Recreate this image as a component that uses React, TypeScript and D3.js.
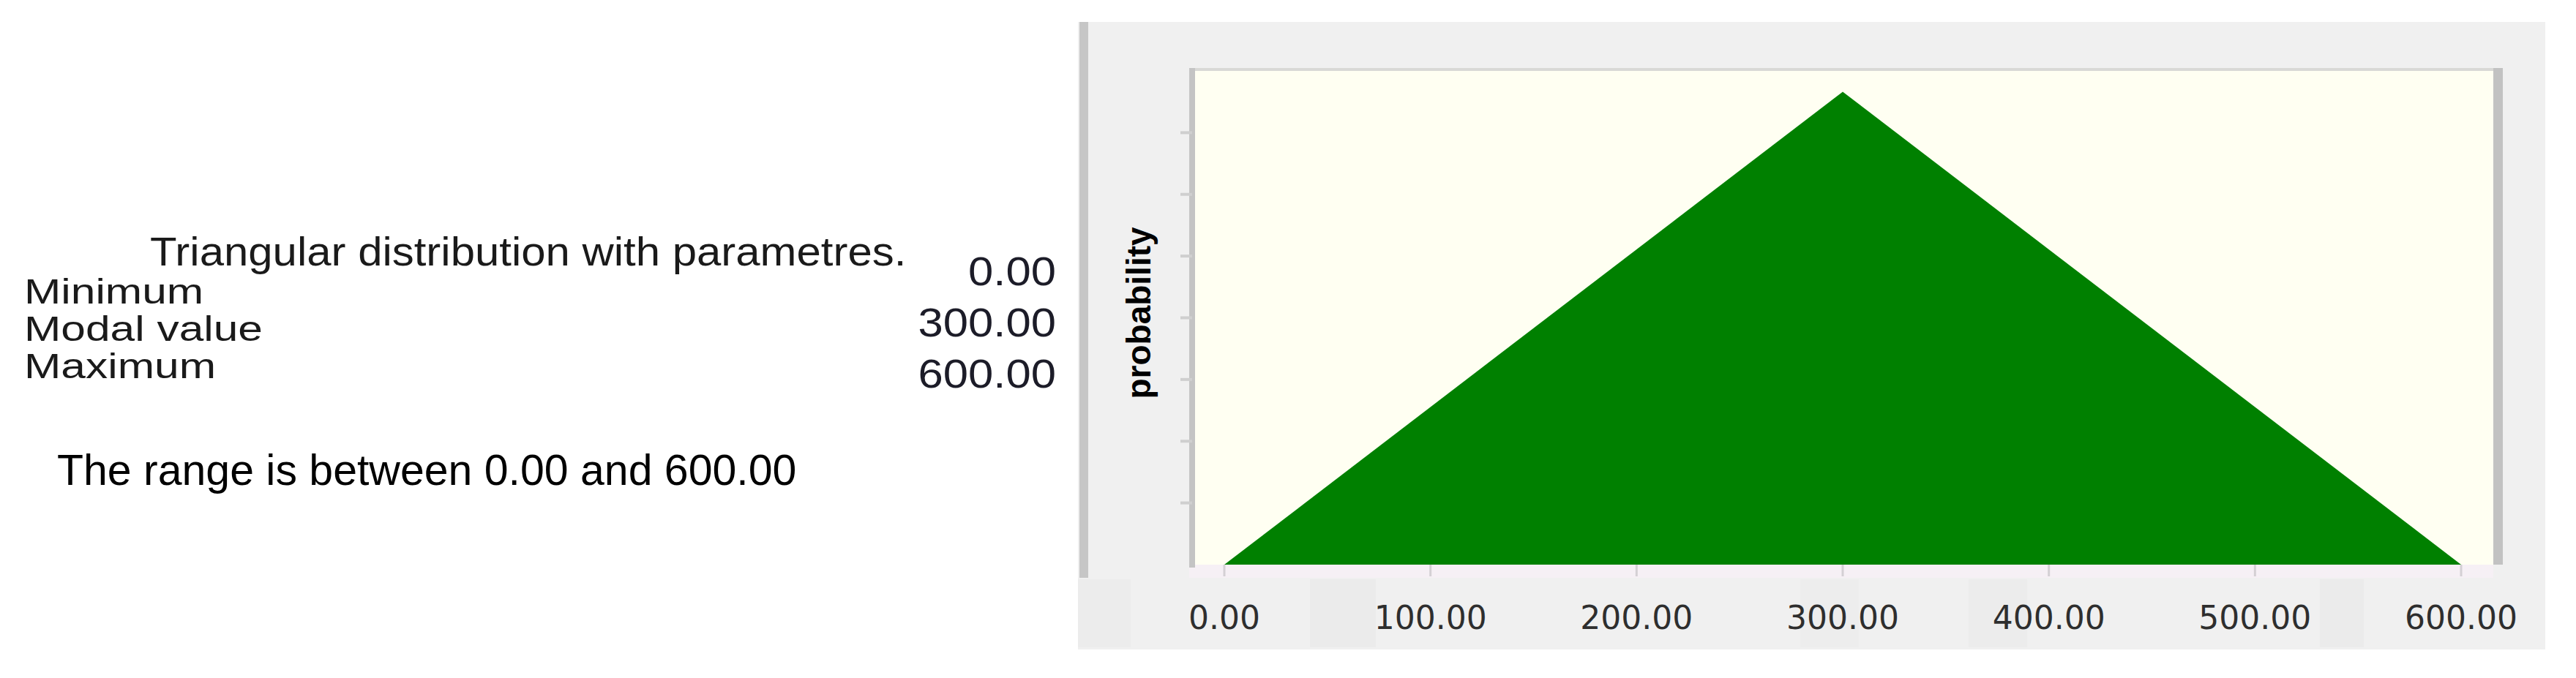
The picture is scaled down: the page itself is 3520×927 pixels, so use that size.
import { useEffect, useRef } from "react";
import * as d3 from "d3";

// triangular distribution parameters
const paramLabels = ["Minimum", "Modal value", "Maximum"];
const paramValues = [0, 300, 600];

// density outline: x values and probability at each
const curveX = [0, 300, 600];
const curveY = [0, 1 / 300, 0];

const xTickValues = [0, 100, 200, 300, 400, 500, 600];
const yTickValues = [0.000435, 0.00087, 0.001305, 0.00174, 0.002175, 0.00261, 0.003045];

const W = 3520;
const H = 927;

function App() {
  const svgRef = useRef<SVGSVGElement>(null);

  useEffect(() => {
    const svg = d3.select(svgRef.current);
    svg.selectAll("*").remove();

    const sans = "'Liberation Sans', Arial, sans-serif";

    // left text block
    const left = svg.append("g");
    left
      .append("text")
      .attr("transform", "translate(205,363) scale(1.07,1)")
      .attr("font-family", sans)
      .attr("font-size", 56)
      .attr("fill", "#1a1a1a")
      .text("Triangular distribution with parametres.");

    paramLabels.forEach((label, i) => {
      left
        .append("text")
        .attr("transform", `translate(33,${415 + i * 51}) scale(1.26,1)`)
        .attr("font-family", sans)
        .attr("font-size", 48)
        .attr("fill", "#1a1a1a")
        .text(label);
    });

    paramValues.forEach((v, i) => {
      left
        .append("text")
        .attr("transform", `translate(1443,${390 + i * 70}) scale(1.1,1)`)
        .attr("font-family", sans)
        .attr("font-size", 56)
        .attr("text-anchor", "end")
        .attr("fill", "#1c1c28")
        .text(v.toFixed(2));
    });

    left
      .append("text")
      .attr("x", 78)
      .attr("y", 663)
      .attr("font-family", sans)
      .attr("font-size", 59)
      .attr("fill", "#000")
      .text(
        `The range is between ${paramValues[0].toFixed(2)} and ${paramValues[2].toFixed(2)}`
      );

    // chart panel
    const panel = { x: 1473, y: 30, w: 2005, h: 858 };
    const plot = { left: 1633, right: 3407, top: 97, bottom: 772 };

    svg
      .append("rect")
      .attr("x", panel.x)
      .attr("y", panel.y)
      .attr("width", panel.w)
      .attr("height", panel.h)
      .attr("fill", "#f0f0f0");

    // dark strip at left edge of the panel
    svg
      .append("rect")
      .attr("x", 1475)
      .attr("y", panel.y)
      .attr("width", 12)
      .attr("height", 760)
      .attr("fill", "#c6c6c6");

    // label strip patches
    const strip = svg.append("g");
    [
      [1473, 1545, "#ececec"],
      [1790, 1880, "#ebebeb"],
      [2460, 2540, "#ededed"],
      [2690, 2770, "#ececec"],
      [3170, 3230, "#ebebeb"],
    ].forEach(([x0, x1, c]) => {
      strip
        .append("rect")
        .attr("x", x0 as number)
        .attr("y", 792)
        .attr("width", (x1 as number) - (x0 as number))
        .attr("height", 93)
        .attr("fill", c as string);
    });

    // band under plot area
    svg
      .append("rect")
      .attr("x", plot.left - 8)
      .attr("y", plot.bottom)
      .attr("width", plot.right - plot.left + 8)
      .attr("height", 18)
      .attr("fill", "#f6f0f5");

    // plot background
    svg
      .append("rect")
      .attr("x", plot.left)
      .attr("y", plot.top)
      .attr("width", plot.right - plot.left)
      .attr("height", plot.bottom - plot.top)
      .attr("fill", "#fffff2");

    // plot borders
    svg
      .append("rect")
      .attr("x", plot.left - 8)
      .attr("y", plot.top - 4)
      .attr("width", plot.right - plot.left + 8)
      .attr("height", 4)
      .attr("fill", "#d9d9d6");
    svg
      .append("rect")
      .attr("x", plot.left - 8)
      .attr("y", plot.top - 4)
      .attr("width", 8)
      .attr("height", plot.bottom - plot.top + 8)
      .attr("fill", "#c4c4c4");
    svg
      .append("rect")
      .attr("x", plot.right)
      .attr("y", plot.top - 4)
      .attr("width", 13)
      .attr("height", plot.bottom - plot.top + 4)
      .attr("fill", "#c2c2c2");

    const x = d3.scaleLinear().domain([0, 600]).range([1673, 3363]);
    const y = d3.scaleLinear().domain([0, 0.00348]).range([plot.bottom, plot.top]);

    // y ticks (no labels)
    svg
      .append("g")
      .selectAll("line")
      .data(yTickValues)
      .enter()
      .append("line")
      .attr("x1", plot.left - 20)
      .attr("x2", plot.left - 4)
      .attr("y1", (d) => y(d))
      .attr("y2", (d) => y(d))
      .attr("stroke", "#cfcfcf")
      .attr("stroke-width", 4);

    // density area
    const pts = curveX.map((v, i) => [v, curveY[i]] as [number, number]);
    const area = d3
      .area<[number, number]>()
      .x((d) => x(d[0]))
      .y0(y(0))
      .y1((d) => y(d[1]));

    svg.append("path").datum(pts).attr("d", area).attr("fill", "#008000");

    // x ticks and labels
    const xt = svg.append("g");
    xt.selectAll("line")
      .data(xTickValues)
      .enter()
      .append("line")
      .attr("x1", (d) => x(d))
      .attr("x2", (d) => x(d))
      .attr("y1", plot.bottom)
      .attr("y2", plot.bottom + 16)
      .attr("stroke", "#d4d0d4")
      .attr("stroke-width", 3);

    xt.selectAll("text")
      .data(xTickValues)
      .enter()
      .append("text")
      .attr("x", (d) => x(d))
      .attr("y", 860)
      .attr("text-anchor", "middle")
      .attr("font-family", "'DejaVu Sans', Verdana, sans-serif")
      .attr("font-size", 44)
      .attr("fill", "#2e2e2e")
      .text((d) => d.toFixed(2));

    // y axis title
    svg
      .append("text")
      .attr("transform", "translate(1572,428) rotate(-90)")
      .attr("text-anchor", "middle")
      .attr("font-family", sans)
      .attr("font-weight", "bold")
      .attr("font-size", 46)
      .attr("fill", "#000")
      .text("probability");
  }, []);

  return (
    <div>
      <style>{`body{margin:0;background:#fff}`}</style>
      <svg ref={svgRef} width={W} height={H} style={{ display: "block" }}></svg>
    </div>
  );
}

export default App;
